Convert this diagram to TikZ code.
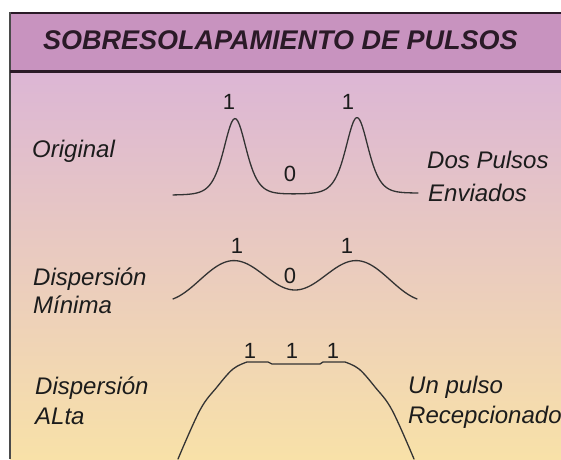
\documentclass[tikz,border=0pt]{standalone}
\usepackage{fontspec}
\setmainfont{Liberation Sans}

\definecolor{bandPink}{HTML}{C893BF}
\definecolor{bodyTop}{HTML}{DCB6D5}
\definecolor{bodyMid}{HTML}{EDCDC5}
\definecolor{bodyBottom}{HTML}{F8E1A8}
\definecolor{frameDark}{HTML}{2A1A27}
\definecolor{frameGray}{HTML}{4A4A4A}
\definecolor{inkGray}{HTML}{1C1C1C}
\definecolor{curveGray}{HTML}{333333}

%% narrow pulse (sech^2), argument in units of the width
\pgfmathdeclarefunction{pulseShape}{1}{%
  \pgfmathparse{1/cosh(min(abs(#1),7))}%
  \pgfmathparse{\pgfmathresult*\pgfmathresult}}

\begin{document}
\begin{tikzpicture}
[x=1pt,y=-1pt,%
  titleDecorate/.style={font=\fontsize{27}{27}\selectfont\bfseries\itshape,text=frameDark,inner sep=0pt,anchor=base west},%
  labelDecorate/.style={font=\fontsize{24}{24}\selectfont\itshape,text=inkGray,inner sep=0pt,anchor=base west},%
  bitDecorate/.style={font=\fontsize{22}{22}\selectfont,text=inkGray,inner sep=0pt,anchor=base},%
  pulseDecorate/.style={draw=curveGray,line width=1.3pt,line join=round,line cap=round}]
\useasboundingbox (0,0) rectangle (561,459);
%% background, title band and frame
\fill[white] (0,0) rectangle (561,459);
\shade[top color=bodyTop,middle color=bodyMid,bottom color=bodyBottom] (10,71) rectangle (561,459);
\fill[bandPink] (10,13) rectangle (561,71);
\draw[frameDark,line width=2pt] (10,13) -- (561,13);
\draw[frameGray,line width=2.5pt] (10,12) -- (10,459);
\draw[frameDark,line width=3pt] (10,71) -- (561,71);
\node[titleDecorate] (title) at (43,49) {SOBRESOLAPAMIENTO DE PULSOS};
%% row labels
\node[labelDecorate] (orig) at (32,157) {Original};
\node[labelDecorate] (dispMin) at (33,285) {Dispersión};
\node[labelDecorate] (minima) at (33,313) {Mínima};
\node[labelDecorate] (dispAlt) at (35,394) {Dispersión};
\node[labelDecorate] (alta) at (35,424) {ALta};
\node[labelDecorate] (dosPulsos) at (427,168) {Dos Pulsos};
\node[labelDecorate] (enviados) at (428,201) {Enviados};
\node[labelDecorate] (unPulso) at (408,393) {Un pulso};
\node[labelDecorate] (recep) at (408,423) {Recepcionado};
%% bit values over the pulses
\foreach \nodename/\x/\y/\bit in {
  bitA/229/109/1, bitB/290/181/0, bitC/348/109/1,
  bitD/237/253/1, bitE/290/283/0, bitF/347/253/1,
  bitG/250/358/1, bitH/292/358/1, bitI/333/358/1}
{
  \node[bitDecorate] (\nodename) at (\x,\y) {\bit};
}
%% original: two narrow pulses
\draw[pulseDecorate] plot[domain=173:418,samples=160]
  (\x,{195-0.008*(\x-173)-76*pulseShape((\x-235)/15)-76*pulseShape((\x-357)/15)});
%% minimum dispersion
\draw[pulseDecorate] plot[domain=173:417,samples=120]
  (\x,{275-15*cos(2.9032*(\x-233))+9*(abs(\x-295)/122)^4});
%% high dispersion
\draw[pulseDecorate] plot[smooth,tension=0.6] coordinates {
  (178,459) (200,410) (217,387) (233,369) (247,362)}
  -- (268,362) -- (272,364) -- (320,364) -- (323,362) -- (345,362)
  plot[smooth,tension=0.6] coordinates {
  (345,362) (359,369) (375,387) (392,410) (414,459)};
\end{tikzpicture}
\end{document}
